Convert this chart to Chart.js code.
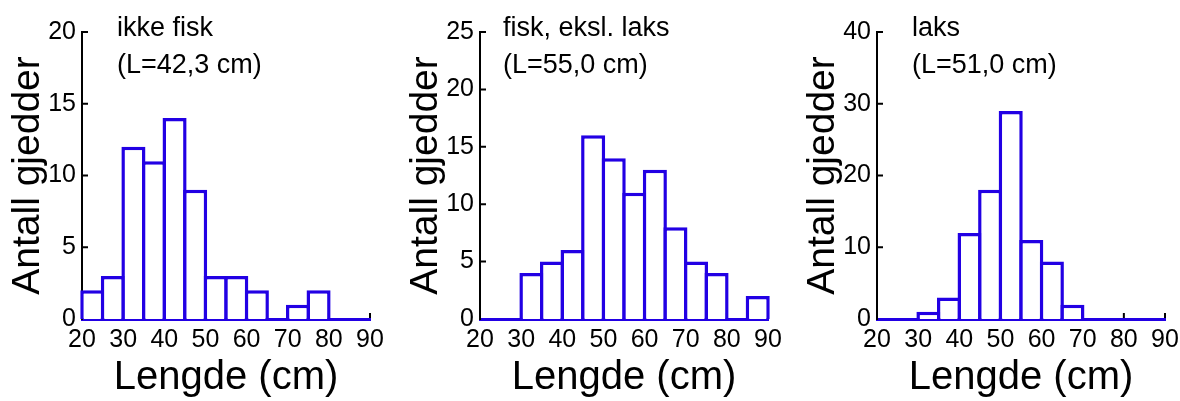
<!DOCTYPE html>
<html>
<head>
<meta charset="utf-8">
<script src="https://cdn.jsdelivr.net/npm/chart.js@4/dist/chart.umd.min.js"></script>
<style>
  html, body { margin: 0; padding: 0; background: #fff; overflow: hidden; }
  body { width: 1180px; height: 401px; position: relative; }
  .panel { position: absolute; top: 0; width: 390px; height: 401px; }
</style>
</head>
<body>
<div class="panel" style="left:0"><canvas id="chart1"></canvas></div>
<div class="panel" style="left:398px"><canvas id="chart2"></canvas></div>
<div class="panel" style="left:795px"><canvas id="chart3"></canvas></div>
<script>
// length classes (cm), 5 cm wide
const binStarts = [20, 25, 30, 35, 40, 45, 50, 55, 60, 65, 70, 75, 80, 85];

// number of pike per length class
const countsIkkeFisk = [2, 3, 12, 11, 14, 9, 3, 3, 2, 0, 1, 2, 0, 0];
const countsFisk = [0, 0, 4, 5, 6, 16, 14, 11, 13, 8, 5, 4, 0, 2];
const countsLaks = [0, 0, 1, 3, 12, 18, 29, 11, 8, 2, 0, 0, 0, 0];

const panelNames = ["ikke fisk", "fisk, eksl. laks", "laks"];
const meanLengths = ["42,3", "55,0", "51,0"];
const yMax = [20, 25, 40];
const yStep = [5, 5, 10];

const BLUE = "rgb(34, 0, 228)";
const FONT = '"Liberation Sans", Arial, sans-serif';

// tick marks pointing into the plot area
const innerTicks = {
  id: "innerTicks",
  beforeDraw(chart) {
    const { ctx, chartArea, scales } = chart;
    ctx.save();
    ctx.strokeStyle = "#000";
    ctx.lineWidth = 2;
    ctx.beginPath();
    scales.y.ticks.forEach((t) => {
      const py = scales.y.getPixelForValue(t.value);
      ctx.moveTo(chartArea.left, py);
      ctx.lineTo(chartArea.left + 6, py);
    });
    scales.x.ticks.forEach((t) => {
      const px = scales.x.getPixelForValue(t.value);
      ctx.moveTo(px, chartArea.bottom);
      ctx.lineTo(px, chartArea.bottom - 6);
    });
    ctx.stroke();
    ctx.restore();
  },
};

// two-line label in the upper left of each panel
const panelLabel = {
  id: "panelLabel",
  afterDraw(chart, args, opts) {
    const { ctx, chartArea } = chart;
    ctx.save();
    ctx.font = "27px " + FONT;
    ctx.fillStyle = "#000";
    ctx.textBaseline = "alphabetic";
    opts.lines.forEach((line, i) => {
      ctx.fillText(line, chartArea.left + opts.dx, opts.baselines[i]);
    });
    ctx.restore();
  },
};

function makeHistogram(canvasId, counts, idx, labelDx) {
  const ctx = document.getElementById(canvasId).getContext("2d");
  return new Chart(ctx, {
    type: "bar",
    data: {
      datasets: [
        {
          data: binStarts.map((s, i) => ({ x: s + 2.5, y: counts[i] })),
          backgroundColor: "#fff",
          borderColor: BLUE,
          borderWidth: 3.5,
          barPercentage: 1.17, // neighbouring outlines overlap into one line
          categoryPercentage: 1,
          clip: false,
        },
      ],
    },
    options: {
      responsive: true,
      maintainAspectRatio: false,
      animation: false,
      layout: { padding: { top: 32, right: 20, left: 0, bottom: 0 } },
      plugins: {
        legend: { display: false },
        tooltip: { enabled: false },
        panelLabel: {
          lines: [panelNames[idx], "(L=" + meanLengths[idx] + " cm)"],
          dx: labelDx,
          baselines: [36, 73],
        },
      },
      scales: {
        x: {
          type: "linear",
          offset: false,
          min: 20,
          max: 90,
          ticks: {
            stepSize: 10,
            color: "#000",
            padding: 6,
            maxRotation: 0,
            font: { family: FONT, size: 25 },
          },
          grid: { display: false, drawTicks: false },
          border: { display: true, color: BLUE, width: 3 },
          title: {
            display: true,
            text: "Lengde (cm)",
            color: "#000",
            font: { family: FONT, size: 40, lineHeight: 1.15 },
            padding: { top: 0, bottom: 0 },
          },
          afterFit: (scale) => { scale.height = 82; },
        },
        y: {
          min: 0,
          max: yMax[idx],
          ticks: {
            stepSize: yStep[idx],
            color: "#000",
            padding: 6,
            font: { family: FONT, size: 25 },
          },
          grid: { display: false, drawTicks: false },
          border: { display: true, color: "#000", width: 2 },
          title: {
            display: true,
            text: "Antall gjedder",
            color: "#000",
            font: { family: FONT, size: 39, lineHeight: 1 },
            padding: { top: 9, bottom: 0 },
          },
          afterFit: (scale) => { scale.width = 82; },
        },
      },
    },
    plugins: [innerTicks, panelLabel],
  });
}

makeHistogram("chart1", countsIkkeFisk, 0, 35);
makeHistogram("chart2", countsFisk, 1, 23);
makeHistogram("chart3", countsLaks, 2, 35);
</script>
</body>
</html>
